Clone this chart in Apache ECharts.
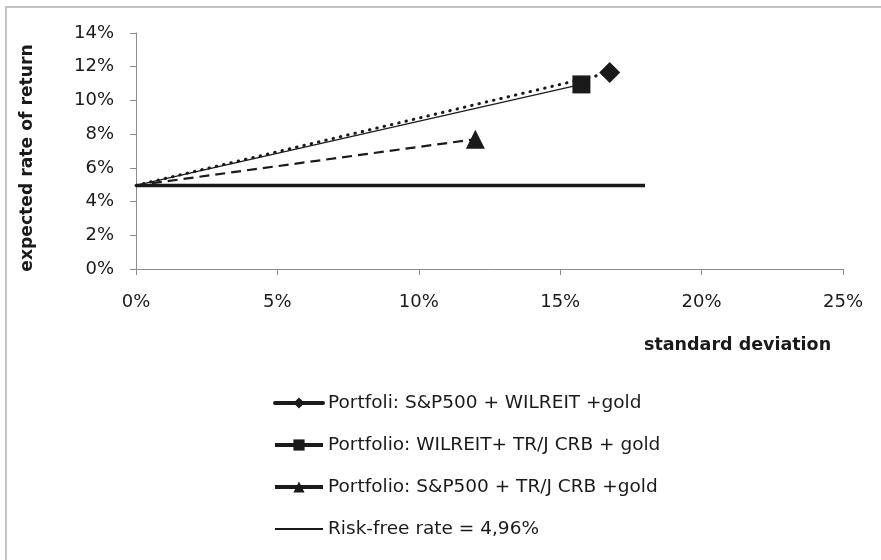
<!DOCTYPE html>
<html>
<head>
<meta charset="utf-8">
<script src="https://cdn.jsdelivr.net/npm/echarts@6/dist/echarts.min.js"></script>
<style>
html,body{margin:0;padding:0;background:#fff;}
#chart{width:881px;height:560px;}
</style>
</head>
<body>
<div id="chart"></div>
<script>
var seriesNames = [
  'Portfoli: S&P500 + WILREIT +gold',
  'Portfolio: WILREIT+ TR/J CRB + gold',
  'Portfolio: S&P500 + TR/J CRB +gold',
  'Risk-free rate = 4,96%'
];
var riskFreeRate = 4.96;
var riskFreeSdRange = [0, 18];
// [standard deviation %, expected return %] of each portfolio
var portfolio1 = [16.75, 11.65];
var portfolio2 = [15.75, 10.95];
var portfolio3 = [12.0, 7.7];
var xTicks = [0, 5, 10, 15, 20, 25];
var yTicks = [0, 2, 4, 6, 8, 10, 12, 14];
var xTitle = 'standard deviation';
var yTitle = 'expected rate of return';

var FONT = 'DejaVu Sans';
var INK = '#1a1a1a';

function cml(point) {
  return [{ value: [0, riskFreeRate], symbol: 'none' }, { value: point }];
}

var chart = echarts.init(document.getElementById('chart'));
chart.setOption({
  animation: false,
  backgroundColor: '#fff',
  textStyle: { fontFamily: FONT },
  grid: { left: 136, top: 33, width: 707, height: 236, containLabel: false },
  xAxis: {
    type: 'value', min: xTicks[0], max: xTicks[xTicks.length - 1], interval: 5,
    axisLine: { lineStyle: { color: '#8c8c8c', width: 1 } },
    axisTick: { show: true, length: 6, lineStyle: { color: '#8c8c8c' } },
    splitLine: { show: false },
    axisLabel: { formatter: '{value}%', color: '#1a1a1a', fontFamily: FONT, fontSize: 18, margin: 24 }
  },
  yAxis: {
    type: 'value', min: yTicks[0], max: yTicks[yTicks.length - 1], interval: 2,
    axisLine: { show: true, lineStyle: { color: '#8c8c8c', width: 1 } },
    axisTick: { show: true, length: 6, lineStyle: { color: '#8c8c8c' } },
    splitLine: { show: false },
    axisLabel: { formatter: '{value}%', color: '#1a1a1a', fontFamily: FONT, fontSize: 18, margin: 22 }
  },
  legend: {
    orient: 'vertical', left: 268, top: 388,
    itemWidth: 48, itemHeight: 14, itemGap: 22,
    textStyle: { fontFamily: FONT, fontSize: 18.5, color: '#1a1a1a', lineHeight: 20 },
    lineStyle: { width: 4, type: 'solid', color: INK },
    data: [
      seriesNames[0], seriesNames[1], seriesNames[2],
      { name: seriesNames[3], itemStyle: { opacity: 0 }, lineStyle: { width: 2 } }
    ]
  },
  graphic: [
    { type: 'rect', silent: true, shape: { x: 6, y: 7, width: 1000, height: 1000 },
      style: { fill: 'none', stroke: '#c4c4c4', lineWidth: 2 } },
    { type: 'text', left: 644, top: 336, silent: true,
      style: { text: xTitle, fontFamily: FONT, fontWeight: 'bold', fontSize: 17.5, fill: '#1a1a1a' } },
    { type: 'text', x: 28, y: 158, rotation: Math.PI / 2, silent: true,
      style: { text: yTitle, fontFamily: FONT, fontWeight: 'bold', fontSize: 17.2, fill: '#1a1a1a',
               align: 'center', verticalAlign: 'middle' } }
  ],
  series: [
    {
      name: seriesNames[0], type: 'line', data: cml(portfolio1),
      symbol: 'diamond', symbolSize: 21, z: 4,
      itemStyle: { color: INK },
      lineStyle: { color: INK, width: 3, type: [0.5, 7], cap: 'round' }
    },
    {
      name: seriesNames[1], type: 'line', data: cml(portfolio2),
      symbol: 'rect', symbolSize: 18, z: 3,
      itemStyle: { color: INK },
      lineStyle: { color: INK, width: 1.2, type: 'solid' }
    },
    {
      name: seriesNames[2], type: 'line', data: cml(portfolio3),
      symbol: 'triangle', symbolSize: 19, z: 3,
      itemStyle: { color: INK },
      lineStyle: { color: INK, width: 2.2, type: [10, 6] }
    },
    {
      name: seriesNames[3], type: 'line',
      data: [[riskFreeSdRange[0], riskFreeRate], [riskFreeSdRange[1], riskFreeRate]],
      symbol: 'none', z: 2,
      itemStyle: { color: INK },
      lineStyle: { color: INK, width: 3.5 }
    }
  ]
});
</script>
</body>
</html>
